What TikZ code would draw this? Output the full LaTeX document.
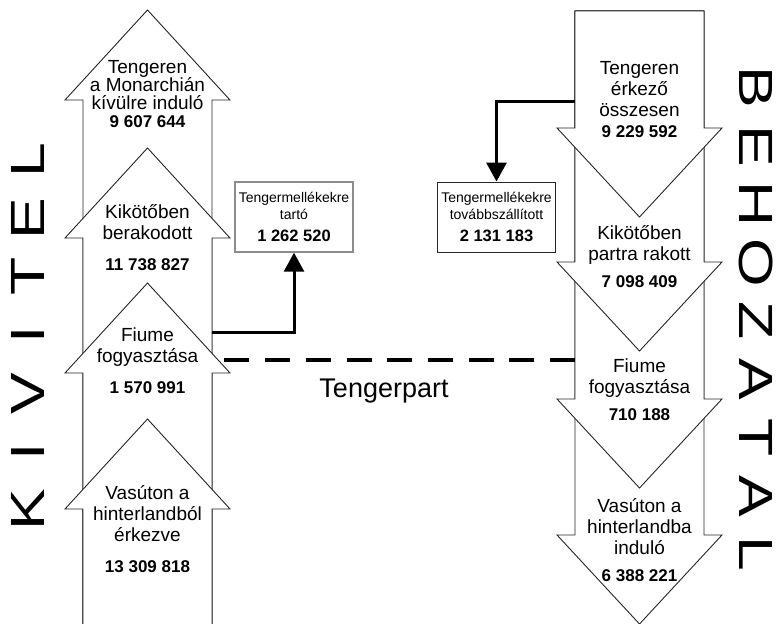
\documentclass[tikz,border=0pt]{standalone}
\usepackage{fontspec}
\setmainfont{Liberation Sans}
\newfontfamily\bigfont[FakeStretch=1.3]{Liberation Sans}
\usetikzlibrary{arrows.meta}
\newcommand\nm[1]{{\fontsize{17}{21}\selectfont\bfseries #1}}
\newcommand\nmb[1]{{\fontsize{16.5}{20}\selectfont\bfseries #1}}
\newcommand\ltr[1]{\makebox[58.3pt]{#1}}
\newcommand\uparr[1]{\filldraw[arrshape] (147.5,#1) -- (230,#1+90) -- (212,#1+90) -- (212,640) -- (83,640) -- (83,#1+90) -- (65,#1+90) -- cycle;}
\newcommand\dnarr[1]{\filldraw[arrshape] (575,11) -- (704,11) -- (704,#1) -- (722,#1) -- (639.5,#1+89) -- (557,#1) -- (575,#1) -- cycle;}
\begin{document}
\begin{tikzpicture}[x=1pt,y=-1pt,
  arrshape/.style={draw=black!85, line width=0.9pt, fill=white, line join=miter},
  lbl/.style={align=center, font=\fontsize{19}{21}\selectfont, inner sep=0pt},
  infobox/.style={line width=1.1pt, minimum width=118pt, minimum height=70pt, inner sep=0pt, align=center, font=\fontsize{14}{17}\selectfont},
  conn/.style={line width=3pt, -{Triangle[width=20pt,length=19pt]}, line join=miter},
  big/.style={font=\bigfont\fontsize{48}{48}\selectfont, inner sep=0pt}]
\useasboundingbox (0,0) rectangle (777,624);
\clip (0,0) rectangle (777,624);
\fill[white] (0,0) rectangle (777,624);
% left (up) arrows
\uparr{10}
\uparr{148}
\uparr{283}
\uparr{419}
% right (down) arrows
\dnarr{535}
\dnarr{399}
\dnarr{262}
\dnarr{128}
% labels left
\node[lbl, font=\fontsize{19}{18}\selectfont] (a1) at (147.5,94) {Tengeren\\a Monarchián\\kívülre induló\\\nm{9 607 644}};
\node[lbl] (a2) at (147.5,238) {Kikötőben\\berakodott\\[10pt]\nm{11 738 827}};
\node[lbl] (a3) at (147.5,361) {Fiume\\fogyasztása\\[10pt]\nm{1 570 991}};
\node[lbl] (a4) at (147.5,529) {Vasúton a\\hinterlandból\\érkezve\\[10pt]\nm{13 309 818}};
% labels right
\node[lbl] (b1) at (639.5,100) {Tengeren\\érkező\\összesen\\\nm{9 229 592}};
\node[lbl] (b2) at (639.5,257) {Kikötőben\\partra rakott\\[6pt]\nm{7 098 409}};
\node[lbl] (b3) at (639.5,390) {Fiume\\fogyasztása\\[6pt]\nm{710 188}};
\node[lbl] (b4) at (639.5,540) {Vasúton a\\hinterlandba\\induló\\[6pt]\nm{6 388 221}};
% boxes
\node[infobox, draw=black!45, line width=1.4pt] (lbox) at (294,217) {Tengermellékekre\\tartó\\[5pt]\nmb{1 262 520}};
\node[infobox, draw=black!85, line width=0.9pt] (rbox) at (496.5,217) {Tengermellékekre\\továbbszállított\\[5pt]\nmb{2 131 183}};
% connectors
\coordinate (ls) at (212,332);
\coordinate (rs) at (575,101);
\draw[conn] (ls) -| (lbox.south);
\draw[conn] (rs) -| (rbox.north);
\coordinate (dr) at (575,360);
\coordinate (dl) at (218,360);
\draw[line width=4pt, dash pattern=on 25pt off 15.7pt] (dr) -- (dl);
\node[font=\fontsize{27}{30}\selectfont, inner sep=0pt, anchor=base] (tp) at (384,397) {Tengerpart};
% side titles
\node[big, rotate=90] (kivitel) at (28,335) {\ltr{K}\ltr{I}\ltr{V}\ltr{I}\ltr{T}\ltr{E}\ltr{L}};
\node[big, rotate=-90] (behozatal) at (756,321) {\ltr{B}\ltr{E}\ltr{H}\ltr{O}\ltr{Z}\ltr{A}\ltr{T}\ltr{A}\ltr{L}};
\end{tikzpicture}
\end{document}
